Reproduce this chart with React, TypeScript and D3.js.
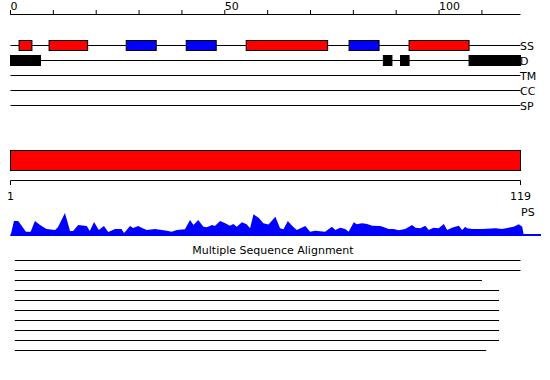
import React from "react";
import * as d3 from "d3";

const SEQ_LENGTH = 119;
const topTicks = [0, 10, 20, 30, 40, 50, 60, 70, 80, 90, 100, 110];
const topTickLabels = [0, 50, 100];

const ssStart = [2, 9, 27, 41, 55, 79, 93];
const ssEnd = [5, 18, 34, 48, 74, 86, 107];
const ssType = ["helix", "helix", "strand", "strand", "helix", "strand", "helix"];

const disStart = [0, 87, 91, 107];
const disEnd = [7, 89, 93, 119];

const trackNames = ["SS", "D", "TM", "CC", "SP"];

const psPos = [
  0, 0.8, 1.8, 3.6, 4.7, 5.7, 6.9, 8.4, 10.4, 11.1, 12.7, 13.9, 14.6, 15.8, 17.8, 18.5,
  19.5, 20.6, 21.8, 22.8, 24.4, 25.9, 26.5, 27.9, 28.6, 29.8, 30.6, 31.8, 33.7, 36.5,
  37.6, 38.8, 40.7, 41.9, 42.7, 43.8, 45.0, 45.8, 47.0, 47.7, 48.9, 50.1, 51.2, 52.0,
  52.8, 54.0, 55.1, 55.9, 56.7, 57.9, 59.0, 60.2, 61.8, 62.9, 63.7, 64.7, 65.7, 66.8,
  68.8, 69.9, 71.1, 73.4, 75.0, 75.8, 76.9, 78.1, 78.9, 80.1, 80.8, 82.0, 83.2, 84.4,
  86.3, 87.5, 88.2, 89.4, 90.6, 92.1, 93.7, 94.5, 95.6, 96.8, 97.6, 98.7, 99.9, 101.1,
  101.9, 103.0, 104.6, 105.4, 106.1, 106.5, 107.7, 110.1, 113.2, 114.7, 117.4, 118.6,
  119.4, 119.8,
];
const psVal = [
  0, 15, 15, 4.3, 4.3, 15, 11, 7, 6, 9, 23, 5, 5, 11, 10, 5,
  14, 6, 10, 4, 7, 7, 3, 10, 8, 10, 8.3, 6, 7, 5.3,
  4.3, 6, 6.7, 16, 11, 16, 9.3, 8.7, 11, 10, 15, 12.7, 10.3, 12,
  9.3, 13.7, 11.7, 7.7, 21.7, 18.3, 12.7, 11.5, 19.3, 7.7, 6.7, 15, 10.3, 6,
  10, 4.3, 5.3, 4.3, 9.3, 6, 8.3, 7, 4.3, 13.7, 11.7, 12.7, 12, 10.3,
  10, 8.3, 7, 7, 5.7, 7, 11, 8.3, 7.7, 10.3, 6, 8.3, 7.7, 12,
  6, 8.3, 10.3, 6, 9.3, 7.7, 7, 7, 7.7, 7, 9.3, 11.7,
  9.3, 0,
];

const msaStart = [1, 1, 1, 1, 1, 1, 1, 1, 1, 1];
const msaEnd = [119, 119, 110, 114, 114, 114, 114, 114, 114, 111];

const FONT = "DejaVu Sans, sans-serif";

export default function App() {
  const x = d3.scaleLinear().domain([0, SEQ_LENGTH]).range([10.5, 520.5]);
  const rowY = d3.scalePoint<string>().domain(trackNames).range([45.5, 105.5]);
  const psY = d3.scaleLinear().domain([0, 25]).range([236, 211]);
  const msaY = d3.scaleLinear().domain([0, 9]).range([260.5, 350.5]);

  const psData = psPos.map((p, i) => [p, psVal[i]] as [number, number]);
  const area = d3
    .area<[number, number]>()
    .x((d) => x(d[0]))
    .y0(psY(0))
    .y1((d) => psY(d[1]));

  const color = (t: string) => (t === "helix" ? "#ff0000" : "#0000ff");

  return (
    <svg
      width={550}
      height={380}
      style={{ position: "absolute", left: 0, top: 0, background: "#fff" }}
      fontFamily={FONT}
      fontSize={11}
    >
      {/* top axis */}
      <line x1={x(0)} x2={x(SEQ_LENGTH)} y1={14.5} y2={14.5} stroke="#000" />
      {topTicks.map((t) => (
        <line key={t} x1={x(t)} x2={x(t)} y1={10} y2={14.5} stroke="#000" />
      ))}
      {topTickLabels.map((t) => (
        <text key={t} x={x(t)} y={10} fill="#000">
          {t}
        </text>
      ))}

      {/* track lines */}
      {trackNames.map((n) => (
        <g key={n}>
          <line x1={x(0)} x2={x(SEQ_LENGTH)} y1={rowY(n)} y2={rowY(n)} stroke="#000" />
          <text x={520} y={(rowY(n) as number) + 4} fill="#000">
            {n}
          </text>
        </g>
      ))}

      {/* SS features */}
      {ssStart.map((s, i) => (
        <rect
          key={i}
          x={x(s)}
          y={(rowY("SS") as number) - 5}
          width={x(ssEnd[i]) - x(s)}
          height={10}
          fill={color(ssType[i])}
          stroke="#000"
        />
      ))}

      {/* disorder features */}
      {disStart.map((s, i) => (
        <rect
          key={i}
          x={x(s)}
          y={(rowY("D") as number) - 5}
          width={x(disEnd[i]) - x(s)}
          height={10}
          fill="#000"
          stroke="#000"
        />
      ))}

      {/* domain bar */}
      <rect x={x(0)} y={150.5} width={x(SEQ_LENGTH) - x(0)} height={20} fill="#ff0000" stroke="#000" />

      {/* second axis */}
      <line x1={x(0)} x2={x(SEQ_LENGTH)} y1={180.5} y2={180.5} stroke="#000" />
      <line x1={x(0)} x2={x(0)} y1={180.5} y2={185} stroke="#000" />
      <line x1={x(SEQ_LENGTH)} x2={x(SEQ_LENGTH)} y1={180.5} y2={185} stroke="#000" />
      <text x={x(0)} y={200} textAnchor="middle" fill="#000">1</text>
      <text x={x(SEQ_LENGTH)} y={200} textAnchor="middle" fill="#000">
        {SEQ_LENGTH}
      </text>
      <text x={521} y={216} fill="#000">PS</text>

      {/* PS profile */}
      <path d={area(psData) || ""} fill="#0000ff" />
      <line x1={x(0)} x2={541} y1={235} y2={235} stroke="#0000ff" strokeWidth={2} />

      {/* MSA */}
      <text x={273} y={254} textAnchor="middle" fill="#000">
        Multiple Sequence Alignment
      </text>
      {msaStart.map((s, i) => (
        <line key={i} x1={x(s)} x2={x(msaEnd[i])} y1={msaY(i)} y2={msaY(i)} stroke="#000" />
      ))}
    </svg>
  );
}
